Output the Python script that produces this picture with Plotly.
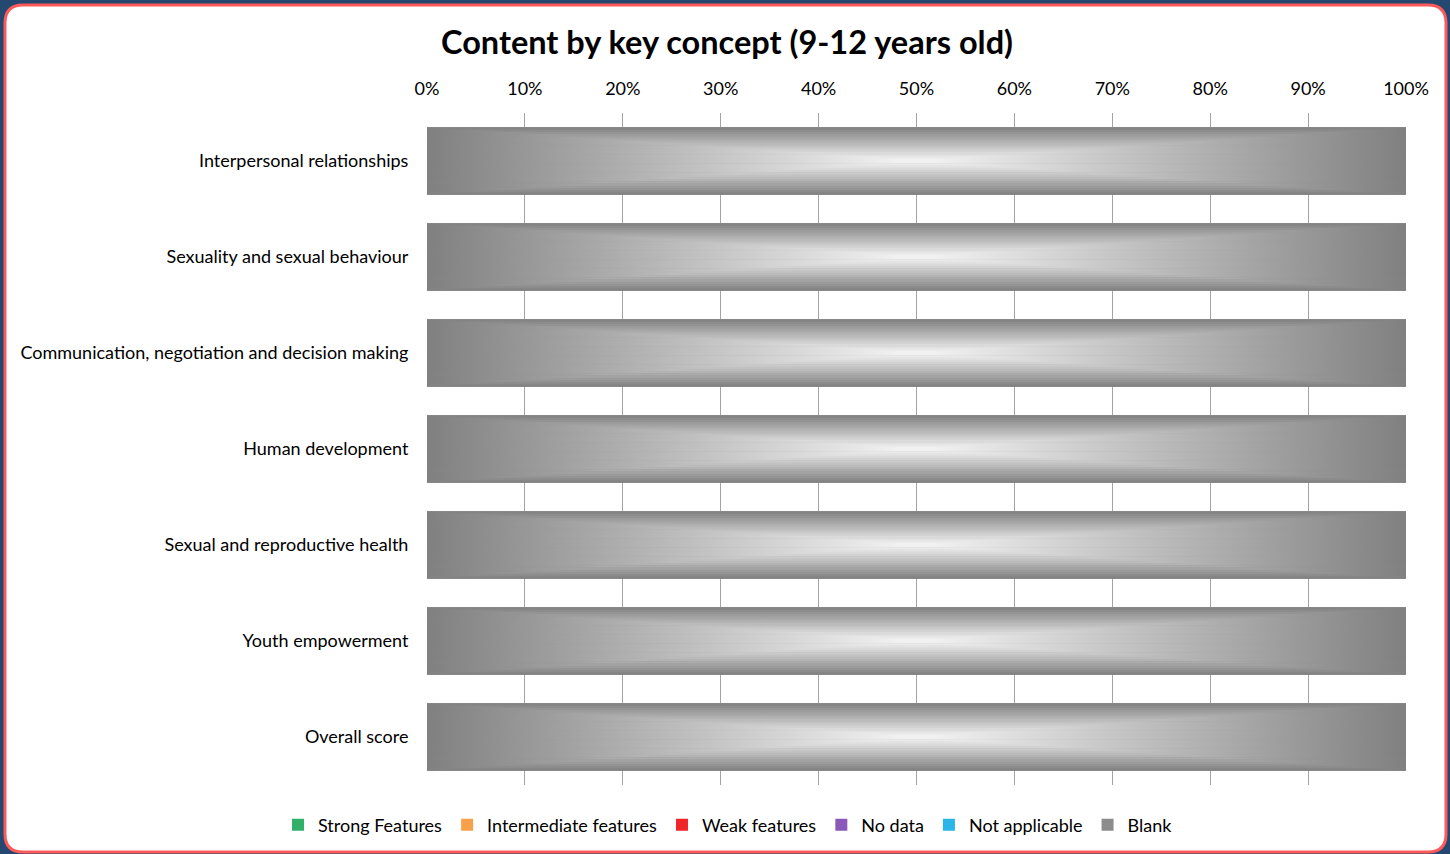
import plotly.graph_objects as go

# ---------------- data ----------------
categories = [
    "Interpersonal relationships",
    "Sexuality and sexual behaviour",
    "Communication, negotiation and decision making",
    "Human development",
    "Sexual and reproductive health",
    "Youth empowerment",
    "Overall score",
]
series_names = ["Strong Features", "Intermediate features", "Weak features",
                "No data", "Not applicable", "Blank"]
strong = [0, 0, 0, 0, 0, 0, 0]
intermediate = [0, 0, 0, 0, 0, 0, 0]
weak = [0, 0, 0, 0, 0, 0, 0]
no_data = [0, 0, 0, 0, 0, 0, 0]
not_applicable = [0, 0, 0, 0, 0, 0, 0]
blank = [100, 100, 100, 100, 100, 100, 100]
x_ticks = [0, 10, 20, 30, 40, 50, 60, 70, 80, 90, 100]
x_tick_labels = [f"{v}%" for v in x_ticks]

series_values = [strong, intermediate, weak, no_data, not_applicable, blank]
series_colors = ["#33b068", "#f9a04b", "#f0252a", "#8a58b8", "#2ab5e8", "#8c8c8c"]

# ---------------- layout geometry ----------------
W, H = 1450, 854
ML, MR, MT, MB = 427, 44, 113, 69
PW, PH = W - ML - MR, H - MT - MB
FONT = "Lato"
BAR_W = 0.7

def pxx(px):
    return (px - ML) / PW

def pxy(py):
    return (H - MB - py) / PH

def shade(t):
    g = int(round(245 - 117 * t))
    return f"rgb({g},{g},{g})"

ypos = list(range(len(categories)))
fig = go.Figure()

for name, vals, col in zip(series_names, series_values, series_colors):
    fig.add_trace(go.Bar(
        name=name, y=ypos, x=vals, orientation="h", width=BAR_W,
        marker=dict(color=col, line=dict(width=0)), hoverinfo="skip",
    ))

# gradient overlay ("rectangular path" shading) for the Blank segments
N = 30
hh = BAR_W / 2
step = 2 * hh / N
for i, yi in enumerate(ypos):
    base = sum(s[i] for s in series_values[:-1])
    val = blank[i]
    if val <= 0:
        continue
    x0, x1 = base, base + val
    for k in range(N):
        y0 = yi - hh + k * step
        y1 = min(y0 + step * 1.2, yi + hh)
        vc = abs((yi - hh + (k + 0.5) * step) - yi) / hh
        cs = [[0, shade(1)], [0.5 * (1 - vc), shade(vc)],
              [0.5 * (1 + vc), shade(vc)], [1, shade(1)]]
        fig.add_trace(go.Scatter(
            x=[x0, x1, x1, x0, x0], y=[y0, y0, y1, y1, y0],
            mode="none", fill="toself",
            fillgradient=dict(type="horizontal", colorscale=cs, start=x0, stop=x1),
            showlegend=False, hoverinfo="skip",
        ))

# rounded white panel with red border
l, t, r, b, rad = 5, 5, 1446, 852, 18
path = (f"M {pxx(l+rad)},{pxy(t)} L {pxx(r-rad)},{pxy(t)} "
        f"Q {pxx(r)},{pxy(t)} {pxx(r)},{pxy(t+rad)} "
        f"L {pxx(r)},{pxy(b-rad)} Q {pxx(r)},{pxy(b)} {pxx(r-rad)},{pxy(b)} "
        f"L {pxx(l+rad)},{pxy(b)} Q {pxx(l)},{pxy(b)} {pxx(l)},{pxy(b-rad)} "
        f"L {pxx(l)},{pxy(t+rad)} Q {pxx(l)},{pxy(t)} {pxx(l+rad)},{pxy(t)} Z")

fig.update_layout(
    width=W, height=H,
    margin=dict(l=ML, r=MR, t=MT, b=MB, pad=0),
    paper_bgcolor="#244870", plot_bgcolor="rgba(0,0,0,0)",
    barmode="stack", bargap=0.3,
    font=dict(family=FONT, size=18, color="#000000"),
    title=dict(text="<b>Content by key concept (9-12 years old)</b>",
               x=727 / W, xanchor="center", yref="container", y=1 - 43 / H,
               yanchor="middle", font=dict(family=FONT, size=32.5, color="#000000")),
    shapes=[dict(type="path", path=path, xref="paper", yref="paper",
                 fillcolor="white", line=dict(color="#ff5a5a", width=3), layer="below")],
    legend=dict(orientation="h", xref="container", yref="container",
                x=728 / W, xanchor="center", y=1 - 825 / H, yanchor="middle",
                font=dict(family=FONT, size=18), itemwidth=30,
                bgcolor="rgba(0,0,0,0)", traceorder="normal"),
    showlegend=True,
)
fig.update_xaxes(range=[0, 100], side="top", tickvals=x_ticks, ticktext=x_tick_labels,
                 showgrid=True, gridcolor="#a3a3a3", gridwidth=1, zeroline=False,
                 showline=False, ticks="outside", ticklen=10,
                 tickcolor="rgba(0,0,0,0)", tickfont=dict(size=18), fixedrange=True)
fig.update_yaxes(range=[len(categories) - 0.5, -0.5], tickvals=ypos, ticktext=categories,
                 showgrid=False, zeroline=False, showline=False, ticks="outside",
                 ticklen=14, tickcolor="rgba(0,0,0,0)", tickfont=dict(size=18),
                 fixedrange=True)

fig.write_html("out.html", config={"displayModeBar": False},
               post_script="document.body.style.margin='0';document.body.style.background='#244870';")
